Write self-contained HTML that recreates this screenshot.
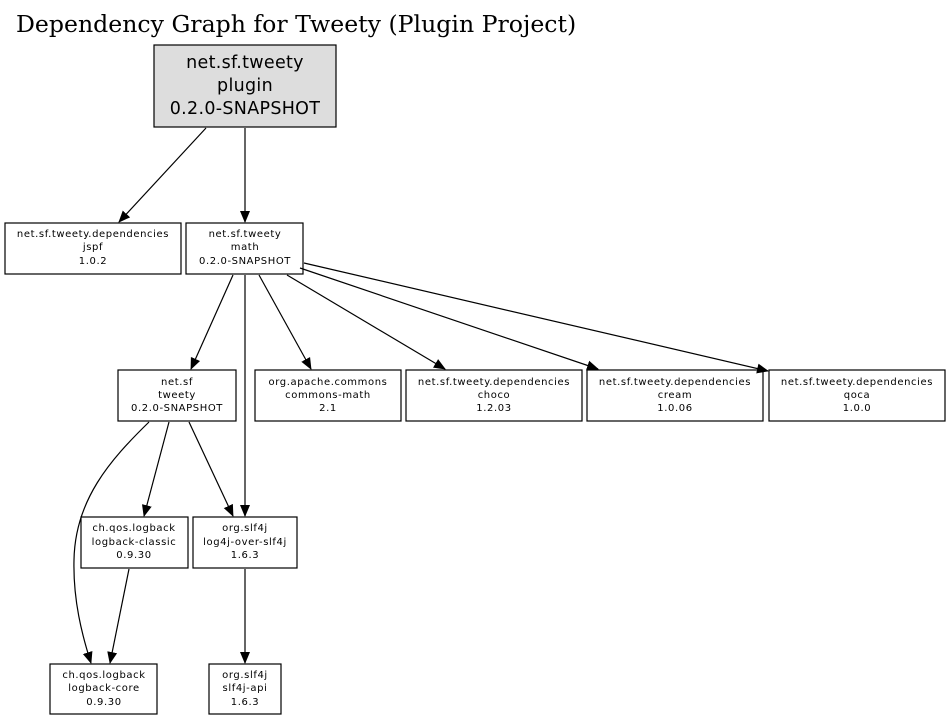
<!DOCTYPE html>
<html><head><meta charset="utf-8"><style>
body{margin:0;background:#fff;width:951px;height:720px;overflow:hidden}
text{font-family:"DejaVu Sans","Liberation Sans",sans-serif;font-size:10px;letter-spacing:0.6px;text-anchor:middle;fill:#000}
.r{fill:#fff;stroke:#000;stroke-width:1.2}
.e{stroke:#000;stroke-width:1.2;fill:none}
</style></head><body>
<svg width="951" height="720" viewBox="0 0 951 720" xmlns="http://www.w3.org/2000/svg">
<defs><marker id="a" markerWidth="12" markerHeight="12" refX="11" refY="6" orient="auto" markerUnits="userSpaceOnUse"><path d="M0,1 L12,6 L0,11 z" fill="#000"/></marker></defs>
<text x="16" y="32" style="font-family:'DejaVu Serif','Liberation Serif',serif;font-size:23.6px;letter-spacing:0;text-anchor:start">Dependency Graph for Tweety (Plugin Project)</text>
<rect x="154" y="45" width="182" height="82" style="fill:#ddd;stroke:#000;stroke-width:1.2"/>
<text x="245" y="68" style="font-size:17.5px;letter-spacing:0.3px">net.sf.tweety</text>
<text x="245" y="91" style="font-size:17.5px;letter-spacing:0.3px">plugin</text>
<text x="245" y="114" style="font-size:17.5px;letter-spacing:0.3px">0.2.0-SNAPSHOT</text>
<g>
<rect class="r" x="5" y="223" width="176" height="51"/><text x="93" y="237">net.sf.tweety.dependencies</text><text x="93" y="250">jspf</text><text x="93" y="264">1.0.2</text>
<rect class="r" x="186" y="223" width="117" height="51"/><text x="245" y="237">net.sf.tweety</text><text x="245" y="250">math</text><text x="245" y="264">0.2.0-SNAPSHOT</text>
<rect class="r" x="118" y="370" width="118" height="51"/><text x="177" y="385">net.sf</text><text x="177" y="398">tweety</text><text x="177" y="411">0.2.0-SNAPSHOT</text>
<rect class="r" x="255" y="370" width="146" height="51"/><text x="328" y="385">org.apache.commons</text><text x="328" y="398">commons-math</text><text x="328" y="411">2.1</text>
<rect class="r" x="406" y="370" width="176" height="51"/><text x="494" y="385">net.sf.tweety.dependencies</text><text x="494" y="398">choco</text><text x="494" y="411">1.2.03</text>
<rect class="r" x="587" y="370" width="176" height="51"/><text x="675" y="385">net.sf.tweety.dependencies</text><text x="675" y="398">cream</text><text x="675" y="411">1.0.06</text>
<rect class="r" x="769" y="370" width="176" height="51"/><text x="857" y="385">net.sf.tweety.dependencies</text><text x="857" y="398">qoca</text><text x="857" y="411">1.0.0</text>
<rect class="r" x="81" y="517" width="107" height="51"/><text x="134" y="531">ch.qos.logback</text><text x="134" y="545">logback-classic</text><text x="134" y="558">0.9.30</text>
<rect class="r" x="193" y="517" width="104" height="51"/><text x="245" y="531">org.slf4j</text><text x="245" y="545">log4j-over-slf4j</text><text x="245" y="558">1.6.3</text>
<rect class="r" x="50" y="664" width="107" height="50"/><text x="104" y="678">ch.qos.logback</text><text x="104" y="691">logback-core</text><text x="104" y="705">0.9.30</text>
<rect class="r" x="209" y="664" width="72" height="50"/><text x="245" y="678">org.slf4j</text><text x="245" y="691">slf4j-api</text><text x="245" y="705">1.6.3</text>
</g>
<g marker-end="url(#a)">
<line class="e" x1="206" y1="128" x2="119" y2="222"/>
<line class="e" x1="245" y1="128" x2="245" y2="222"/>
<line class="e" x1="233" y1="275" x2="191" y2="369"/>
<line class="e" x1="245" y1="275" x2="245" y2="516"/>
<line class="e" x1="259" y1="275" x2="311" y2="369"/>
<line class="e" x1="287" y1="275" x2="445" y2="369"/>
<line class="e" x1="300" y1="268" x2="598" y2="369"/>
<line class="e" x1="304" y1="263" x2="768" y2="371"/>
<line class="e" x1="169" y1="422" x2="144" y2="516"/>
<line class="e" x1="189" y1="422" x2="233" y2="516"/>
<path class="e" d="M149,422 C110,460 75,500 74,560 C73,600 82,635 91,663"/>
<line class="e" x1="129" y1="569" x2="110" y2="663"/>
<line class="e" x1="245" y1="569" x2="245" y2="663"/>
</g>
</svg>
</body></html>
